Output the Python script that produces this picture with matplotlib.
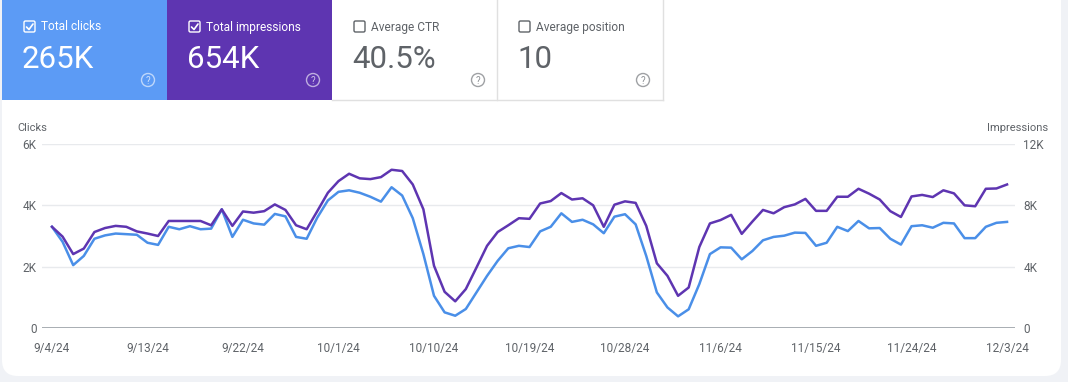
import matplotlib
matplotlib.use("Agg")
import matplotlib.pyplot as plt
from matplotlib.patches import Rectangle, FancyBboxPatch, Circle

plt.rcParams['font.family'] = ['Roboto', 'DejaVu Sans']

# daily values, 9/4/24 .. 12/3/24 (in K)
clicks = [3.30, 2.81, 2.05, 2.35, 2.91, 3.02, 3.08, 3.06, 3.04, 2.78,
          2.71, 3.30, 3.22, 3.32, 3.22, 3.24, 3.87, 2.97, 3.53, 3.41,
          3.37, 3.72, 3.64, 2.97, 2.91, 3.60, 4.16, 4.44, 4.49, 4.41,
          4.28, 4.12, 4.59, 4.32, 3.58, 2.41, 1.05, 0.51, 0.40, 0.62,
          1.16, 1.70, 2.19, 2.60, 2.68, 2.64, 3.15, 3.30, 3.74, 3.46,
          3.53, 3.38, 3.09, 3.63, 3.71, 3.38, 2.35, 1.16, 0.67, 0.38,
          0.61, 1.43, 2.41, 2.63, 2.62, 2.24, 2.51, 2.86, 2.97, 3.01,
          3.11, 3.10, 2.68, 2.78, 3.30, 3.16, 3.49, 3.25, 3.26, 2.91,
          2.72, 3.32, 3.35, 3.27, 3.43, 3.41, 2.93, 2.93, 3.30, 3.43,
          3.46]
impressions = [6.60, 5.96, 4.82, 5.18, 6.26, 6.52, 6.66, 6.60, 6.30, 6.16,
               6.00, 6.98, 6.98, 6.98, 6.98, 6.70, 7.74, 6.66, 7.60, 7.52,
               7.62, 8.06, 7.70, 6.70, 6.44, 7.62, 8.82, 9.58, 10.06, 9.76,
               9.71, 9.84, 10.32, 10.24, 9.36, 7.74, 4.06, 2.36, 1.74, 2.54,
               3.94, 5.36, 6.26, 6.70, 7.16, 7.12, 8.12, 8.28, 8.80, 8.38,
               8.46, 8.00, 6.60, 8.04, 8.26, 8.16, 6.66, 4.22, 3.40, 2.10,
               2.64, 5.28, 6.82, 7.04, 7.38, 6.14, 6.94, 7.70, 7.48, 7.88,
               8.06, 8.42, 7.64, 7.64, 8.56, 8.56, 9.08, 8.76, 8.38, 7.62,
               7.24, 8.58, 8.68, 8.54, 8.98, 8.78, 8.00, 7.94, 9.08, 9.10,
               9.36]
date_labels = ['9/4/24', '9/13/24', '9/22/24', '10/1/24', '10/10/24', '10/19/24',
               '10/28/24', '11/6/24', '11/15/24', '11/24/24', '12/3/24']
card_titles = ['Total clicks', 'Total impressions', 'Average CTR', 'Average position']
card_values = ['265K', '654K', '40.5%', '10']

W, H = 1068, 382
fig = plt.figure(figsize=(W / 100, H / 100), dpi=100)
fig.patch.set_facecolor('#f0f2f6')

bg = fig.add_axes([0, 0, 1, 1])
bg.set_xlim(0, W)
bg.set_ylim(H, 0)
bg.axis('off')

# white card
bg.add_patch(FancyBboxPatch((2, -20), 1061 - 2, 396,
                            boxstyle="round,pad=0,rounding_size=16",
                            facecolor='white', edgecolor='none'))

gray = '#5f6368'
card_colors = ['#5c9bf5', '#5e35b1', 'white', 'white']
card_x = [2, 167, 332, 497]
card_w = 165
for i in range(4):
    x0 = card_x[i]
    filled = card_colors[i] != 'white'
    if filled:
        bg.add_patch(Rectangle((x0, 0), card_w, 100, facecolor=card_colors[i],
                               edgecolor='none'))
    fg = 'white' if filled else gray
    # checkbox
    bg.add_patch(FancyBboxPatch((x0 + 22, 21), 11, 11,
                                boxstyle="round,pad=0,rounding_size=1.5",
                                facecolor='none', edgecolor=fg, lw=1.0))
    if filled:
        bg.plot([x0 + 24.5, x0 + 27, x0 + 31], [27, 29.5, 24], color=fg, lw=1.2,
                solid_capstyle='round')
    bg.text(x0 + 39, 27, card_titles[i], color=fg, fontsize=8.6, va='center',
            ha='left')
    bg.text(x0 + 20, 60, card_values[i], color=fg, fontsize=22.5, va='center',
            ha='left')
    bg.add_patch(Circle((x0 + 146, 80), 6.5, facecolor='none',
                        edgecolor=fg, lw=1.0, alpha=0.6))
    bg.text(x0 + 146, 80.5, '?', color=fg, fontsize=7, va='center', ha='center',
            alpha=0.7)

# borders of white cards
bg.plot([497, 497], [0, 100], color='#e0e0e0', lw=1)
bg.plot([663, 663], [0, 100], color='#e0e0e0', lw=1)
bg.plot([332, 663], [100, 100], color='#e0e0e0', lw=1)

# axis titles
bg.text(17, 128, 'Clicks', color=gray, fontsize=8, va='center', ha='left')
bg.text(1048, 128, 'Impressions', color=gray, fontsize=8, va='center', ha='right')

# chart
left, right = 42 / W, 1015 / W
bottom, top = 1 - 328 / H, 1 - 144 / H
ax = fig.add_axes([left, bottom, right - left, top - bottom])
ax.set_facecolor('none')
days = list(range(len(clicks)))
ax.set_xlim(-0.94, 90.75)
ax.set_ylim(0, 6)
for s in ax.spines.values():
    s.set_visible(False)
for yv in [2, 4, 6]:
    ax.axhline(yv, color='#e8eaed', lw=1, zorder=0)
ax.axhline(0, color='#9aa0a6', lw=1.2, zorder=1)
ax.set_yticks([0, 2, 4, 6])
ax.set_yticklabels(['0', '2K', '4K', '6K'])
ax.set_xticks(days[::9])
ax.set_xticklabels(date_labels)
ax.tick_params(axis='y', length=0, pad=4, labelsize=8.5, labelcolor=gray)
ax.tick_params(axis='x', length=0, pad=10, labelsize=8.5, labelcolor=gray)

ax2 = ax.twinx()
ax2.set_ylim(0, 12)
for s in ax2.spines.values():
    s.set_visible(False)
ax2.set_yticks([0, 4, 8, 12])
ax2.set_yticklabels(['0', '4K', '8K', '12K'])
ax2.tick_params(axis='y', length=0, pad=6, labelsize=8.5, labelcolor=gray)

ax.plot(days, clicks, color='#4a8fe8', lw=1.8, zorder=3)
ax2.plot(days, impressions, color='#5e35b1', lw=1.8, zorder=3)

fig.savefig('out.png', dpi=100, facecolor=fig.get_facecolor())
